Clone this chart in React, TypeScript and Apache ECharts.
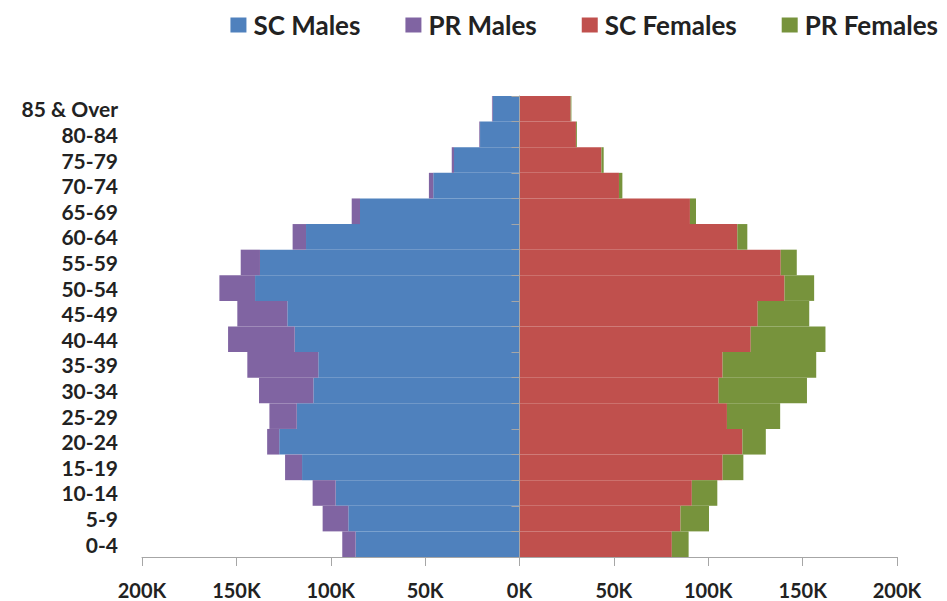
import React, { useEffect, useRef } from "react";
import * as echarts from "echarts";

const ageGroups = [
  "0-4", "5-9", "10-14", "15-19", "20-24", "25-29", "30-34", "35-39", "40-44",
  "45-49", "50-54", "55-59", "60-64", "65-69", "70-74", "75-79", "80-84", "85 & Over",
];
const scMales = [86800, 90700, 97400, 115200, 127300, 118000, 109200, 106600, 119100, 123000, 140100, 137500, 113100, 84500, 45700, 34700, 20900, 14200];
const prMales = [7100, 13600, 12200, 9000, 6400, 14500, 28800, 37600, 35300, 26500, 18900, 10200, 7100, 4400, 2300, 1200, 400, 400];
const scFemales = [80700, 85300, 91300, 107600, 118100, 109900, 105500, 107600, 122500, 126200, 140400, 138400, 115400, 90300, 52700, 43400, 29900, 27100];
const prFemales = [8900, 15100, 13500, 11000, 12400, 28200, 46800, 49600, 39600, 27300, 15700, 8500, 5300, 3200, 1800, 1200, 500, 400];
const xTicks = { min: -200000, max: 200000, step: 50000 };

const FONT = "Lato, 'Open Sans', sans-serif";

export default function App() {
  const ref = useRef<HTMLDivElement>(null);
  useEffect(() => {
    if (!ref.current) return;
    document.body.style.margin = "0";
    const chart = echarts.init(ref.current, undefined, { renderer: "svg" });
    const bar = (name: string, data: number[], stack: string, color: string) => ({
      name,
      type: "bar",
      stack,
      data,
      barWidth: "100%",
      barGap: "-100%",
      barCategoryGap: 0,
      itemStyle: { color },
    });
    chart.setOption({
      animation: false,
      textStyle: { fontFamily: FONT },
      legend: {
        top: 7,
        right: 4,
        itemWidth: 16,
        itemHeight: 15,
        itemGap: 45,
        icon: "rect",
        textStyle: { fontSize: 26, fontWeight: "bold", color: "#222", fontFamily: FONT, padding: [0, 0, 0, 2] },
        data: ["SC Males", "PR Males", "SC Females", "PR Females"],
      },
      grid: { left: 142, right: 50, top: 96, bottom: 44, containLabel: false },
      xAxis: {
        type: "value",
        min: xTicks.min,
        max: xTicks.max,
        interval: xTicks.step,
        splitLine: { show: false },
        axisLine: { show: true, lineStyle: { color: "#a6a6a6" } },
        axisTick: { show: true, length: 9, lineStyle: { color: "#a6a6a6" } },
        axisLabel: {
          margin: 23,
          fontSize: 20,
          fontWeight: "bold",
          color: "#222",
          fontFamily: FONT,
          formatter: (v: number) => Math.abs(v) / 1000 + "K",
        },
      },
      yAxis: [
        {
          type: "category",
          data: ageGroups,
          position: "left",
          axisLine: { show: false, onZero: false },
          axisTick: { show: false },
          axisLabel: { interval: 0, margin: 24, fontSize: 21, fontWeight: "bold", color: "#222", fontFamily: FONT },
        },
        {
          type: "category",
          data: ageGroups,
          position: "left",
          z: 5,
          axisLine: { show: true, onZero: true, lineStyle: { color: "#a6a6a6" } },
          axisTick: { show: true, interval: 0, length: 8, lineStyle: { color: "#a6a6a6" } },
          axisLabel: { show: false },
        },
      ],
      series: [
        bar("SC Males", scMales.map((v) => -v), "male", "#4F81BD"),
        bar("PR Males", prMales.map((v) => -v), "male", "#8064A2"),
        bar("SC Females", scFemales, "female", "#C0504D"),
        bar("PR Females", prFemales, "female", "#77933C"),
      ],
    });
    return () => chart.dispose();
  }, []);
  return <div ref={ref} style={{ width: 947, height: 601 }} />;
}
